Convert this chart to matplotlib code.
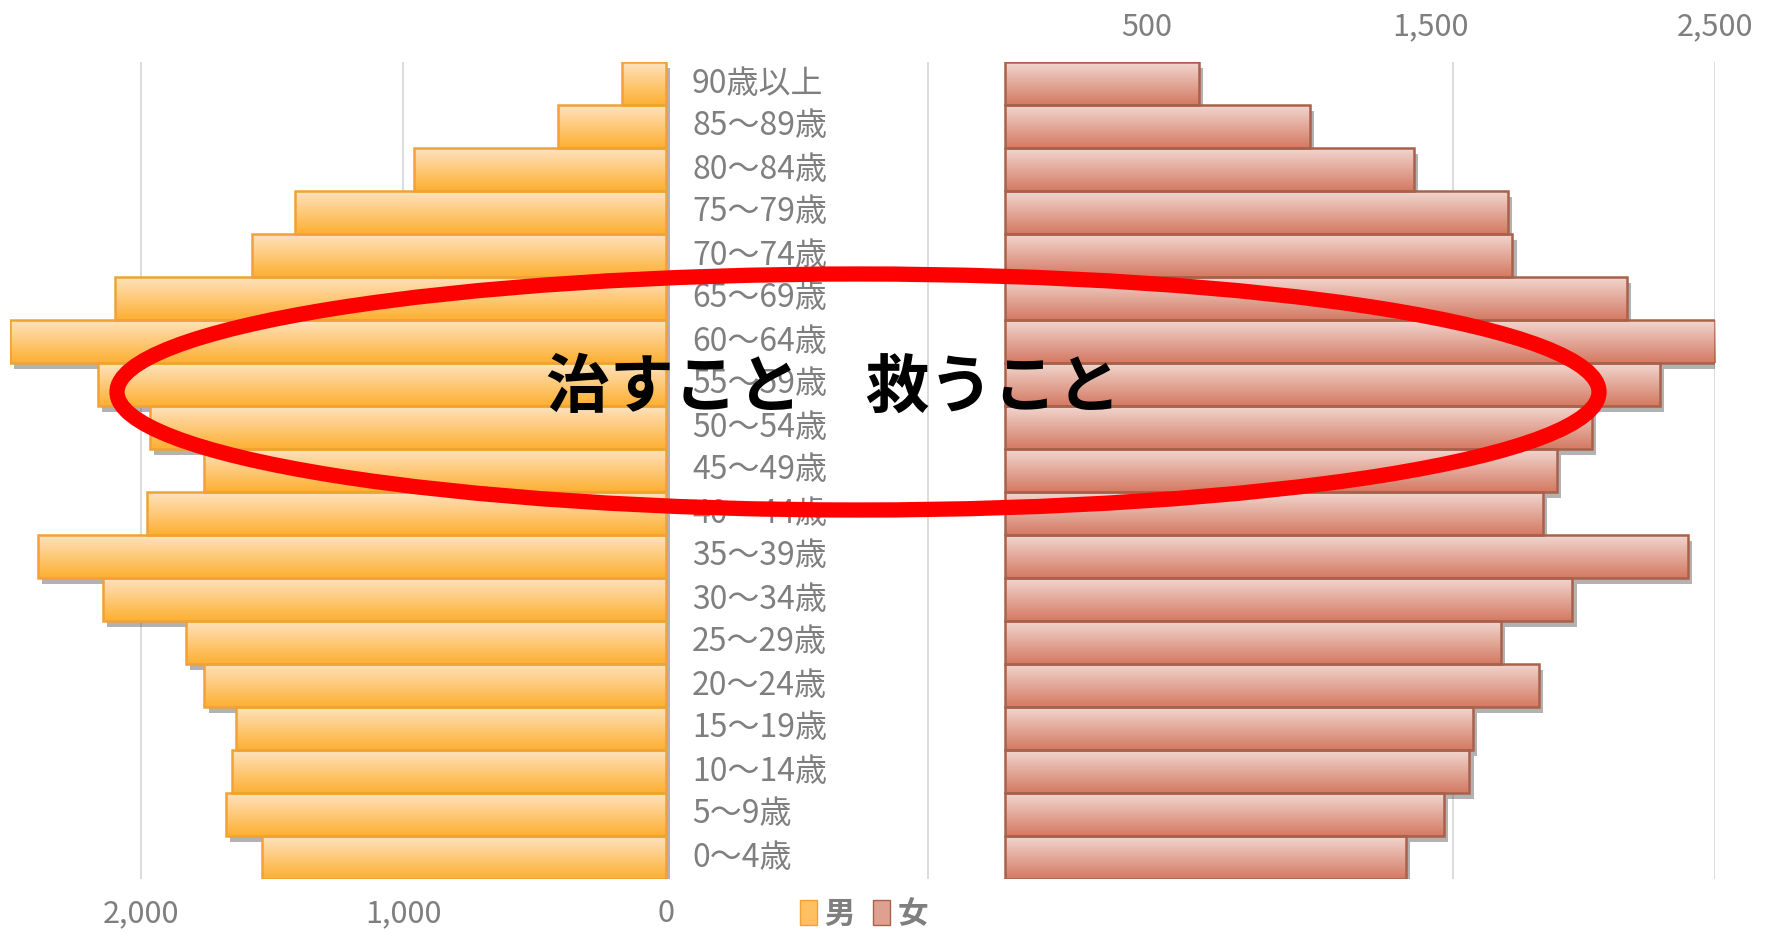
import matplotlib
matplotlib.use("Agg")
import matplotlib.pyplot as plt
import numpy as np
from matplotlib.colors import LinearSegmentedColormap
from matplotlib.patches import Ellipse, Patch
from matplotlib import patheffects as pe
from matplotlib.transforms import blended_transform_factory

plt.rcParams['font.family'] = ['Noto Sans CJK JP', 'DejaVu Sans']

# data (bottom -> top)
ages = ['0～4歳', '5～9歳', '10～14歳', '15～19歳', '20～24歳', '25～29歳',
        '30～34歳', '35～39歳', '40～44歳', '45～49歳', '50～54歳', '55～59歳',
        '60～64歳', '65～69歳', '70～74歳', '75～79歳', '80～84歳', '85～89歳',
        '90歳以上']
male = [1539, 1677, 1655, 1638, 1759, 1828, 2147, 2392, 1978, 1759,
        1966, 2164, 2500, 2099, 1578, 1414, 961, 409, 168]
female = [1413, 1545, 1636, 1648, 1879, 1748, 1998, 2404, 1895, 1943,
          2066, 2305, 2500, 2190, 1787, 1772, 1441, 1075, 685]
male_ticks = [2000, 1000, 0, -1000, -2000, -3000, -4000]
female_ticks = [500, 1500, 2500]
series_names = ['男', '女']
title_text = '治すこと　救うこと'

GRAY = '#7F7F7F'
W, H = 1773, 933
fig = plt.figure(figsize=(W / 100, H / 100), dpi=100)
ax = fig.add_axes([10 / W, 1 - 879 / H, (1715 - 10) / W, (879 - 62) / H])
ax2 = ax.twiny()

y = np.arange(len(ages))


def gradient_bars(a, vals, top, bottom, edge):
    shadow = [pe.SimplePatchShadow(offset=(3, -4), shadow_rgbFace='#555555', alpha=0.45),
              pe.Normal()]
    bars = a.barh(y, vals, height=1.0, color=bottom, edgecolor='none',
                  zorder=2, path_effects=shadow)
    cmap = LinearSegmentedColormap.from_list('g', [top, bottom])
    grad = np.linspace(0, 1, 64).reshape(-1, 1)
    for b in bars:
        x0, y0 = b.get_x(), b.get_y()
        im = a.imshow(grad, cmap=cmap, extent=(x0, x0 + b.get_width(), y0, y0 + b.get_height()),
                      origin='upper', aspect='auto', zorder=2.5)
        im.set_clip_path(b)
    a.barh(y, vals, height=1.0, fill=False, edgecolor=edge, linewidth=1.8, zorder=3)


gradient_bars(ax, male, '#FFE2BE', '#FDB032', '#F0A236')
gradient_bars(ax2, female, '#F1D6CF', '#D47A63', '#A9614B')

ax.set_xlim(2500, -4000)
ax2.set_xlim(-3500, 2500)
ax.set_ylim(-0.5, len(ages) - 0.5)

ax.set_xticks(male_ticks)
ax.set_xticklabels([f'{v:,}' if v >= 0 else '' for v in male_ticks])
ax.grid(axis='x', color='#D9D9D9', linewidth=1.3, zorder=0)
ax.set_axisbelow(True)
ax.tick_params(axis='x', length=0, pad=14, labelsize=22, labelcolor=GRAY)
ax.set_yticks([])

ax2.set_xticks(female_ticks)
ax2.set_xticklabels([f'{v:,}' for v in female_ticks])
ax2.tick_params(axis='x', length=0, pad=14, labelsize=22, labelcolor=GRAY)
for a in (ax, ax2):
    for s in a.spines.values():
        s.set_visible(False)

# age labels between the two halves
tr = blended_transform_factory(fig.transFigure, ax.transData)
for yi, lab in zip(y, ages):
    fig.text(692 / W, yi, lab, transform=tr, ha='left', va='center',
             fontsize=23, color=GRAY, zorder=5)

# legend
handles = [Patch(facecolor='#FEC060', edgecolor='#F0A236'),
           Patch(facecolor='#E0A090', edgecolor='#A9614B')]
leg = fig.legend(handles, series_names, loc='center', bbox_to_anchor=(864 / W, 1 - 914 / H),
                 ncol=2, frameon=False, handlelength=0.55, handleheight=0.9,
                 columnspacing=0.6, handletextpad=0.25, fontsize=22)
for t in leg.get_texts():
    t.set_color(GRAY)
    t.set_fontweight('bold')

# red ellipse and slogan
ell = Ellipse((858 / W, 1 - 392 / H), 1482 / W, 236 / H, transform=fig.transFigure,
              fill=False, edgecolor='#FF0000', linewidth=11, zorder=6)
fig.patches.append(ell)
fig.text(833 / W, 1 - 388 / H, title_text, ha='center', va='center', fontsize=46,
         fontweight='bold', color='black', zorder=7)

fig.savefig('out.png', dpi=100)
